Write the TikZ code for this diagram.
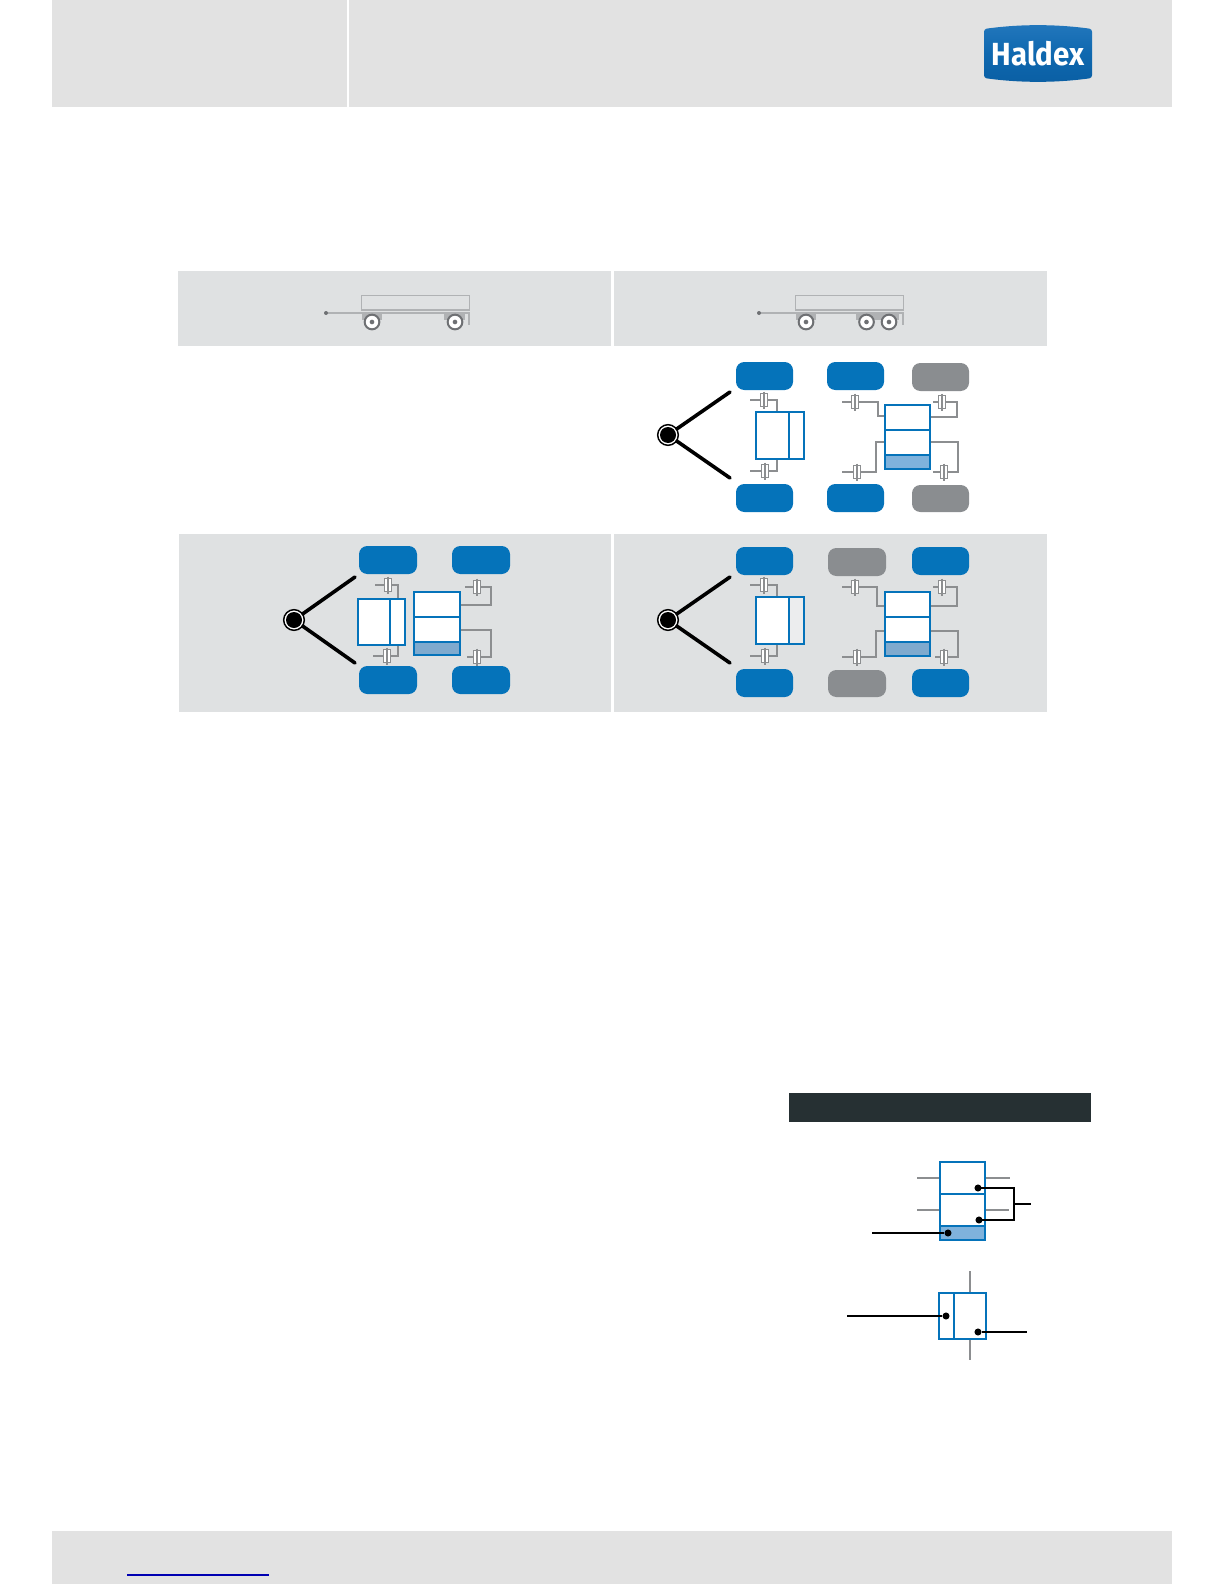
\documentclass[tikz,border=0pt]{standalone}
\usepackage{fontspec}
\usepackage{graphicx}
\setmainfont{Fira Sans}
\usetikzlibrary{calc,shadings}
\definecolor{panel}{HTML}{DFE1E2}
\definecolor{band}{HTML}{E2E2E2}
\definecolor{hblue}{HTML}{0573BA}
\definecolor{hgrey}{HTML}{8A8D90}
\definecolor{lineg}{HTML}{8C8E90}
\definecolor{trail}{HTML}{B0B2B4}
\definecolor{wheelg}{HTML}{6E7073}
\definecolor{lblue}{HTML}{7FB2DC}
\definecolor{darkbar}{HTML}{263033}
\tikzset{
  pill/.style={draw=none,fill=hblue,rounded corners=6.2pt,inner sep=0pt},
  pillg/.style={pill,fill=hgrey},
  pipe/.style={draw=lineg,line width=1.3pt},
  thinpipe/.style={draw=lineg,line width=1pt},
  valve/.style={draw=hblue,line width=1.6pt,fill=white},
  divl/.style={draw=hblue,line width=1.6pt},
  arm/.style={draw=black,line width=2.7pt,line cap=round},
  lead/.style={draw=black,line width=.85pt},
  dotb/.style={circle,fill=black,inner sep=0pt,minimum size=5.3pt},
  trl/.style={draw=trail,line width=.65pt},
  wheel/.style={circle,draw=wheelg,fill=white,line width=1.5pt,minimum size=11pt,inner sep=0pt},
  hub/.style={circle,fill=wheelg,minimum size=3.5pt,inner sep=0pt},
  chamb/.style={draw=lineg,fill=white,line width=.9pt,minimum width=5.4pt,minimum height=9.4pt,inner sep=0pt}
}
% rectangle node between two pixel corners
\newcommand{\rnode}[6]{\node[#2,anchor=north west,minimum width=#5*.75pt-#3*.75pt,minimum height=#6*.75pt-#4*.75pt,inner sep=0pt,outer sep=0pt] (#1) at (#3,#4) {};}
% chamber symbol: name, x, y, stub length to the left
\newcommand{\chmb}[4]{%
  \draw[thinpipe] (#2,#3)+(#4,0) -- +(0,0);
  \node[chamb] (#1) at (#2,#3) {};
  \draw[thinpipe] (#1.center)+(0,-8.5) -- +(0,8.5);
}
% kingpin with two arms
\newcommand{\kingpin}[4]{%
  \node[circle,draw=black,fill=white,line width=1.1pt,minimum size=15.5pt,inner sep=0pt] (#1) at (#2,#3) {};
  \coordinate (#1u) at (#4,#3-43);
  \coordinate (#1d) at (#4,#3+43);
  \draw[arm] (#1) -- (#1u);
  \draw[arm] (#1) -- (#1d);
  \node[circle,fill=black,minimum size=12pt,inner sep=0pt] (#1c) at (#2,#3) {};
}
\begin{document}
\begin{tikzpicture}[x=.75pt,y=-.75pt]
\useasboundingbox (0,0) rectangle (1224,1584);
\fill[white] (0,0) rectangle (1224,1584);
% header and footer bands
\rnode{hl}{fill=band}{52}{0}{346.5}{107}
\rnode{hr}{fill=band}{349}{0}{1172}{107}
\rnode{ft}{fill=band}{52}{1531}{1172}{1584}
\coordinate (linkA) at (127,1575);
\coordinate (linkB) at (269,1575);
\draw[blue!70!black,line width=.8pt] (linkA) -- (linkB);
% logo
\definecolor{logoT}{HTML}{2277BC}
\definecolor{logoM}{HTML}{0F68AF}
\definecolor{logoB}{HTML}{0A5FA4}
\path[top color=logoT,bottom color=logoB,middle color=logoM,rounded corners=2pt]
  (984,29) .. controls (1020,24) and (1056,24) .. (1092,29)
  -- (1092,78) .. controls (1056,83) and (1020,83) .. (984,78) -- cycle;
\node[text=white,font=\bfseries\fontsize{24pt}{25pt}\selectfont,inner sep=0pt] (logo) at (1038,54) {\scalebox{.92}[1]{Haldex}};
% panels
\rnode{p1}{fill=panel}{178}{271}{610.5}{346}
\rnode{p2}{fill=panel}{614}{271}{1047}{346}
\rnode{p3}{fill=panel}{179}{534}{610.5}{712}
\rnode{p4}{fill=panel}{614}{534}{1047}{712}
% trailer 1
\rnode{t1box}{trl}{361}{295}{469}{310}
\coordinate (t1a) at (326,313); \coordinate (t1b) at (469,313); \coordinate (t1c) at (469,325);
\draw[trl,line width=.8pt] (t1a) -- (t1b) -- (t1c);
\draw[trail,line width=1.1pt] (361,310) -- (469,310);
\node[circle,fill=wheelg,minimum size=3pt,inner sep=0pt] (t1p) at (t1a) {};
\fill[trail] (362,314) rectangle (382,320);
\fill[trail] (444,314) rectangle (465,320);
\node[wheel] (t1w1) at (372,322) {}; \node[hub] at (t1w1) {};
\node[wheel] (t1w2) at (455,322) {}; \node[hub] at (t1w2) {};
% trailer 2
\rnode{t2box}{trl}{795}{295}{903}{310}
\coordinate (t2a) at (759,313); \coordinate (t2b) at (903,313); \coordinate (t2c) at (903,325);
\draw[trl,line width=.8pt] (t2a) -- (t2b) -- (t2c);
\draw[trail,line width=1.1pt] (795,310) -- (903,310);
\node[circle,fill=wheelg,minimum size=3pt,inner sep=0pt] (t2p) at (t2a) {};
\fill[trail] (796,314) rectangle (816,320);
\fill[trail] (856,314) rectangle (899,320);
\node[wheel] (t2w1) at (806,322) {}; \node[hub] at (t2w1) {};
\node[wheel] (t2w2) at (866.5,322) {}; \node[hub] at (t2w2) {};
\node[wheel] (t2w3) at (889,322) {}; \node[hub] at (t2w3) {};

% ---- upper right layout
\rnode{a1}{pill}{736}{362}{793}{390}
\rnode{a2}{pill}{827}{362}{884}{390}
\rnode{a3}{pillg}{912}{363}{969}{391}
\rnode{a4}{pill}{736}{484}{793}{512}
\rnode{a5}{pill}{827}{484}{884}{512}
\rnode{a6}{pillg}{912}{485}{969}{512}
\kingpin{ak}{668}{435}{730}
\draw[pipe] (764,400) -- (777,400) -- (777,412);
\draw[pipe] (765,471) -- (777,471) -- (777,459);
\draw[pipe] (855,402) -- (878,402) -- (878,416) -- (885,416);
\draw[pipe] (857,472) -- (876,472) -- (876,442) -- (885,442);
\draw[pipe] (942,402) -- (957,402) -- (957,417) -- (930,417);
\draw[pipe] (944,472) -- (958,472) -- (958,442) -- (930,442);
\chmb{ac1}{764}{400}{-14}
\chmb{ac2}{765}{471}{-15}
\chmb{ac3}{855}{402}{-13}
\chmb{ac4}{857}{472}{-15}
\chmb{ac5}{942}{402}{-9}
\chmb{ac6}{944}{472}{-11}
\rnode{av}{valve}{756}{412}{804}{459}
\draw[divl] (789,412) -- (789,459);
\rnode{ab}{valve}{885}{405}{930}{469}
\fill[lblue] (885,455) rectangle (930,469);
\draw[divl] (885,405) rectangle (930,469);
\draw[divl] (885,430) -- (930,430);
\draw[divl] (885,455) -- (930,455);

% ---- lower left layout
\rnode{b1}{pill}{359}{546}{417}{574}
\rnode{b2}{pill}{452}{546}{510}{574}
\rnode{b3}{pill}{359}{666}{417}{694}
\rnode{b4}{pill}{452}{666}{510}{694}
\kingpin{bk}{294}{620}{355}
\draw[pipe] (388,585) -- (398,585) -- (398,599);
\draw[pipe] (387,656) -- (398,656) -- (398,645);
\draw[pipe] (477,587) -- (491,587) -- (491,605) -- (460,605);
\draw[pipe] (477,657) -- (491,657) -- (491,630) -- (460,630);
\chmb{bc1}{388}{585}{-13}
\chmb{bc2}{387}{656}{-14}
\chmb{bc3}{477}{587}{-12}
\chmb{bc4}{477}{657}{-10}
\rnode{bv}{valve}{358}{599}{405}{645}
\draw[divl] (390,599) -- (390,645);
\rnode{bb}{valve}{414}{592}{460}{655}
\fill[lblue!85!gray] (414,642) rectangle (460,655);
\draw[divl] (414,592) rectangle (460,655);
\draw[divl] (414,617) -- (460,617);
\draw[divl] (414,642) -- (460,642);

% ---- lower right layout
\rnode{c1}{pill}{736}{547}{793}{575}
\rnode{c2}{pillg}{828}{548}{886}{576}
\rnode{c3}{pill}{912}{547}{969}{575}
\rnode{c4}{pill}{736}{669}{793}{697}
\rnode{c5}{pillg}{828}{670}{886}{697}
\rnode{c6}{pill}{912}{669}{969}{697}
\kingpin{ck}{668}{620}{730}
\draw[pipe] (764,585) -- (777,585) -- (777,597);
\draw[pipe] (765,656) -- (777,656) -- (777,644);
\draw[pipe] (855,587) -- (877,587) -- (877,606) -- (885,606);
\draw[pipe] (857,657) -- (876,657) -- (876,631) -- (885,631);
\draw[pipe] (942,587) -- (957,587) -- (957,606) -- (930,606);
\draw[pipe] (944,657) -- (958,657) -- (958,631) -- (930,631);
\chmb{cc1}{764}{585}{-14}
\chmb{cc2}{765}{656}{-15}
\chmb{cc3}{855}{587}{-13}
\chmb{cc4}{857}{657}{-15}
\chmb{cc5}{942}{587}{-9}
\chmb{cc6}{944}{657}{-9}
\rnode{cv}{valve}{756}{597}{804}{644}
\fill[panel!60!white] (789,597) rectangle (804,644);
\draw[divl] (756,597) rectangle (804,644);
\draw[divl] (789,597) -- (789,644);
\rnode{cb}{valve}{885}{592}{930}{656}
\fill[lblue!85!gray] (885,642) rectangle (930,656);
\draw[divl] (885,592) rectangle (930,656);
\draw[divl] (885,617) -- (930,617);
\draw[divl] (885,642) -- (930,642);

% ---- legend
\rnode{bar}{fill=darkbar}{789}{1093}{1091}{1122}
% legend upper valve
\draw[pipe] (917,1178) -- (940,1178);
\draw[pipe] (917,1210) -- (940,1210);
\draw[pipe] (985,1178) -- (1010,1178);
\draw[pipe] (985,1210) -- (1009,1210);
\rnode{lv1}{valve}{940}{1162}{985}{1240}
\fill[lblue] (940,1226) rectangle (985,1240);
\draw[divl] (940,1162) rectangle (985,1240);
\draw[divl] (940,1194) -- (985,1194);
\draw[divl] (940,1226) -- (985,1226);
\node[dotb] (d1) at (978,1188) {};
\node[dotb] (d2) at (979,1220) {};
\node[dotb] (d3) at (948,1233) {};
\coordinate (br1) at (1014,1188);
\coordinate (br2) at (1014,1220);
\coordinate (br3) at (1014,1204);
\coordinate (br4) at (1031,1204);
\coordinate (ll1) at (872,1233);
\draw[lead] (d1.center) -- (br1) -- (br2) -- (d2.center);
\draw[lead] (br3) -- (br4);
\draw[lead] (ll1) -- (d3);
% legend lower valve
\coordinate (st1) at (970,1271); \coordinate (st2) at (970,1360);
\draw[pipe] (st1) -- (st2);
\rnode{lv2}{valve}{939}{1293}{986}{1339}
\draw[divl] (954,1293) -- (954,1339);
\node[dotb] (d4) at (946,1316) {};
\node[dotb] (d5) at (978,1332) {};
\coordinate (ll2) at (847,1316);
\coordinate (ll3) at (1027,1332);
\draw[lead] (ll2) -- (d4);
\draw[lead] (d5) -- (ll3);
\end{tikzpicture}
\end{document}
